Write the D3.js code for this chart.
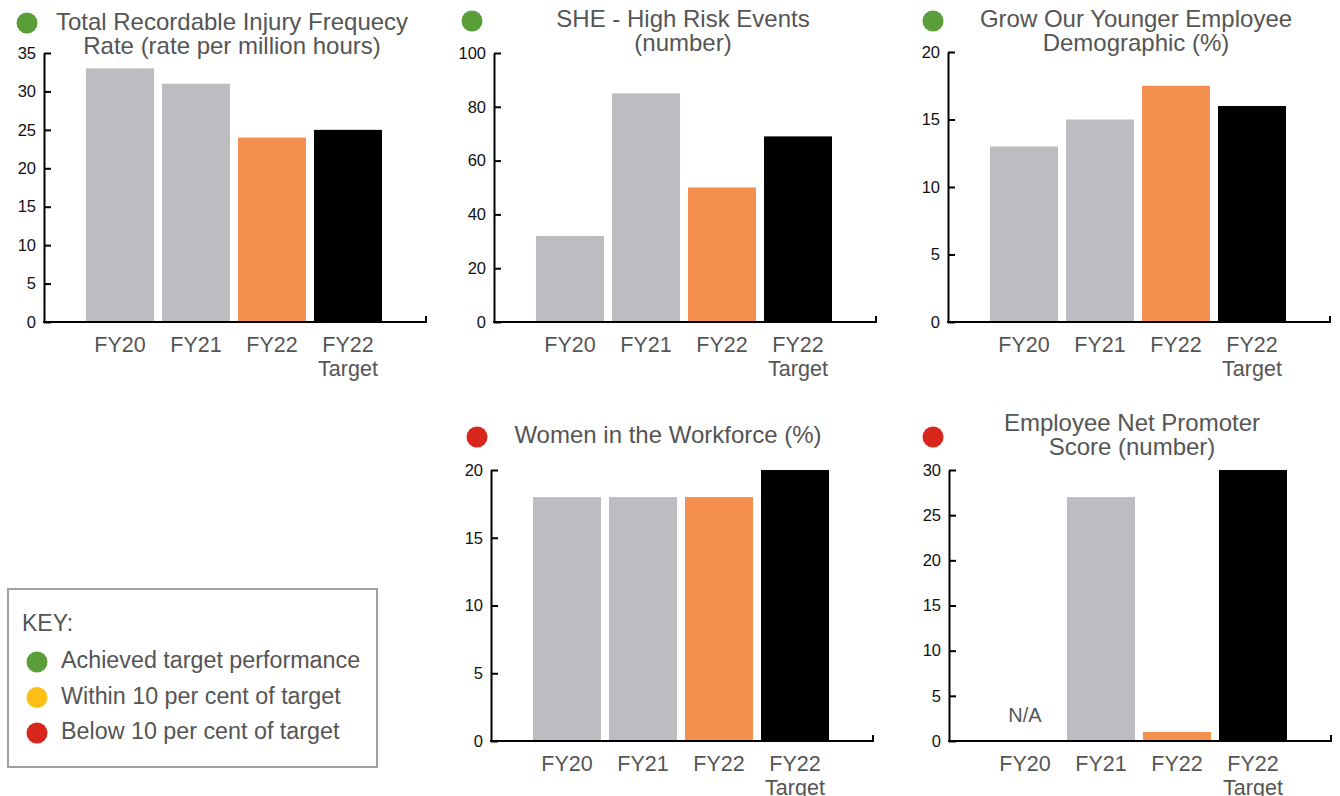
<!DOCTYPE html>
<html>
<head>
<meta charset="utf-8">
<script src="https://cdn.jsdelivr.net/npm/d3@7/dist/d3.min.js"></script>
<style>
  html, body { margin: 0; padding: 0; background: #fff; }
  svg { display: block; font-family: "Liberation Sans", Arial, sans-serif; }
</style>
</head>
<body>
<svg id="chart" width="1340" height="796"></svg>
<script>
// ---- data ----
const categories = ["FY20", "FY21", "FY22", "FY22 Target"];
const barColors = ["#bcbdc0", "#bcbdc0", "#f58f4f", "#000000"];

const injuryRate = [33, 31, 24, 25];
const highRiskEvents = [32, 85, 50, 69];
const youngerDemographic = [13, 15, 17.5, 16];
const womenWorkforce = [18, 18, 18, 20];
const employeeNPS = [null, 27, 1, 30];

const injuryTicks = [0, 5, 10, 15, 20, 25, 30, 35];
const highRiskTicks = [0, 20, 40, 60, 80, 100];
const youngerTicks = [0, 5, 10, 15, 20];
const womenTicks = [0, 5, 10, 15, 20];
const npsTicks = [0, 5, 10, 15, 20, 25, 30];

const statusColors = { achieved: "#5a9e3a", within: "#fbbf16", below: "#d9261c" };
const keyItems = [
  { status: "achieved", label: "Achieved target performance" },
  { status: "within", label: "Within 10 per cent of target" },
  { status: "below", label: "Below 10 per cent of target" }
];

// ---- panels ----
const panels = [
  { title: ["Total Recordable Injury Frequecy", "Rate (rate per million hours)"], values: injuryRate, ticks: injuryTicks,
    status: "achieved", axisX: 44, top: 53, bottom: 322, titleX: 232, titleY: 30, dot: [27, 23] },
  { title: ["SHE - High Risk Events", "(number)"], values: highRiskEvents, ticks: highRiskTicks,
    status: "achieved", axisX: 494, top: 53, bottom: 322, titleX: 683, titleY: 27, dot: [472, 21] },
  { title: ["Grow Our Younger Employee", "Demographic (%)"], values: youngerDemographic, ticks: youngerTicks,
    status: "achieved", axisX: 948, top: 52, bottom: 322, titleX: 1136, titleY: 27, dot: [933, 21] },
  { title: ["Women in the Workforce (%)"], values: womenWorkforce, ticks: womenTicks,
    status: "below", axisX: 491, top: 470, bottom: 741, titleX: 668, titleY: 443, dot: [477, 437] },
  { title: ["Employee Net Promoter", "Score (number)"], values: employeeNPS, ticks: npsTicks,
    status: "below", axisX: 949, top: 470, bottom: 741, titleX: 1132, titleY: 431, dot: [933, 437] }
];

const svg = d3.select("#chart");
const textGrey = "#555555";

panels.forEach(p => {
  const g = svg.append("g");
  const maxTick = d3.max(p.ticks);
  const y = d3.scaleLinear().domain([0, maxTick]).range([p.bottom, p.top]);
  const x = d3.scaleBand().domain(categories)
    .range([p.axisX + 38, p.axisX + 38 + 304])
    .paddingInner(8 / 76).paddingOuter(4 / 76);

  // bars
  g.selectAll("rect.bar")
    .data(categories.map((c, i) => ({ c, v: p.values[i], color: barColors[i] })).filter(d => d.v != null))
    .join("rect")
    .attr("class", "bar")
    .attr("x", d => x(d.c))
    .attr("width", x.bandwidth())
    .attr("y", d => y(d.v))
    .attr("height", d => y(0) - y(d.v))
    .attr("fill", d => d.color);

  // "N/A" for missing values
  categories.forEach((c, i) => {
    if (p.values[i] == null) {
      g.append("text")
        .attr("x", x(c) + x.bandwidth() / 2)
        .attr("y", y(0) - 19)
        .attr("text-anchor", "middle")
        .attr("font-size", 20)
        .attr("fill", textGrey)
        .text("N/A");
    }
  });

  // y axis with inward ticks
  const yAxis = d3.axisLeft(y).tickValues(p.ticks).tickSize(-7).tickSizeOuter(0).tickPadding(8)
    .tickFormat(d3.format("d"));
  const ya = g.append("g").attr("transform", `translate(${p.axisX},0)`).call(yAxis);
  ya.selectAll("path, line").attr("stroke", "#000").attr("stroke-width", 2);
  ya.selectAll("text").attr("font-size", 16.5).attr("fill", "#111")
    .attr("font-family", "'Liberation Sans', Arial, sans-serif");

  // baseline with end tick
  const x0 = p.axisX, x1 = p.axisX + 382, yb = y(0);
  g.append("path")
    .attr("d", `M${x0 - 1},${yb}H${x1}V${yb - 6}`)
    .attr("fill", "none").attr("stroke", "#000").attr("stroke-width", 2);

  // category labels (two lines for target)
  categories.forEach(c => {
    const parts = c.split(" ");
    const t = g.append("text")
      .attr("x", x(c) + x.bandwidth() / 2)
      .attr("y", yb + 30)
      .attr("text-anchor", "middle")
      .attr("font-size", 21.5)
      .attr("fill", textGrey);
    parts.forEach((s, k) => {
      t.append("tspan").attr("x", x(c) + x.bandwidth() / 2).attr("dy", k === 0 ? 0 : 23.5).text(s);
    });
  });

  // title
  const tt = g.append("text")
    .attr("x", p.titleX).attr("y", p.titleY)
    .attr("text-anchor", "middle").attr("font-size", 24).attr("fill", textGrey);
  p.title.forEach((s, k) => {
    tt.append("tspan").attr("x", p.titleX).attr("dy", k === 0 ? 0 : 23.5).text(s);
  });

  // status dot
  g.append("circle").attr("cx", p.dot[0]).attr("cy", p.dot[1]).attr("r", 10.5)
    .attr("fill", statusColors[p.status]);
});

// ---- key ----
const key = svg.append("g");
key.append("rect").attr("x", 8).attr("y", 589).attr("width", 369).attr("height", 178)
  .attr("fill", "#fff").attr("stroke", "#a0a0a0").attr("stroke-width", 2);
key.append("text").attr("x", 22).attr("y", 631).attr("font-size", 23).attr("fill", textGrey).text("KEY:");
keyItems.forEach((d, i) => {
  key.append("circle").attr("cx", 37).attr("cy", 662 + i * 35.5).attr("r", 10.5)
    .attr("fill", statusColors[d.status]);
  key.append("text").attr("x", 61).attr("y", 668 + i * 35.5).attr("font-size", 23.3)
    .attr("fill", textGrey).text(d.label);
});
</script>
</body>
</html>
